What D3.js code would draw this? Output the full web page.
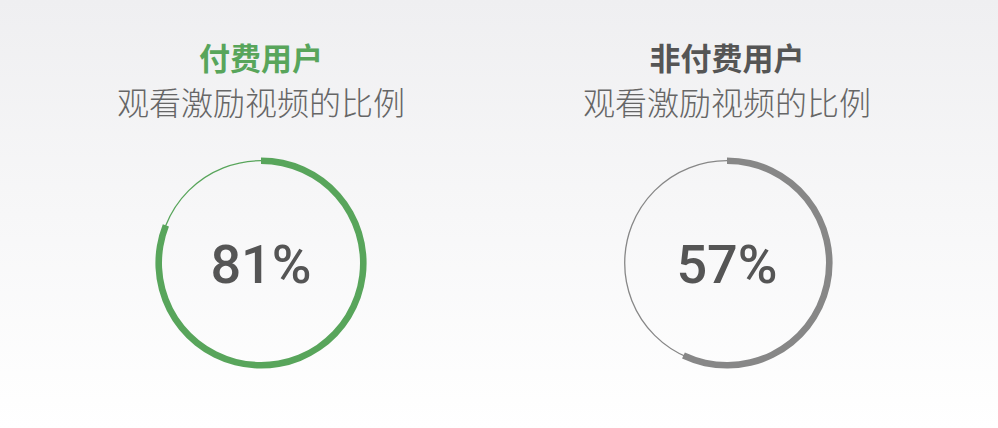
<!DOCTYPE html>
<html>
<head>
<meta charset="utf-8">
<script src="https://cdn.jsdelivr.net/npm/d3@7"></script>
<style>
  html, body { margin: 0; padding: 0; }
  body { width: 998px; height: 428px; overflow: hidden; }
</style>
</head>
<body>
<svg id="chart" width="998" height="428"></svg>
<script>
// data
var groups = ["付费用户", "非付费用户"];
var values = [81, 57];
var subtitle = "观看激励视频的比例";
var colors = ["#58a55b", "#878787"];
var titleColors = ["#58a55b", "#555555"];

var svg = d3.select("#chart"),
    width = +svg.attr("width"),
    height = +svg.attr("height");

var defs = svg.append("defs");
var grad = defs.append("linearGradient")
    .attr("id", "bg")
    .attr("x1", 0).attr("y1", 0).attr("x2", 0).attr("y2", 1);
grad.append("stop").attr("offset", "0%").attr("stop-color", "#efeff1");
grad.append("stop").attr("offset", "100%").attr("stop-color", "#ffffff");

svg.append("rect")
    .attr("width", width)
    .attr("height", height)
    .attr("fill", "url(#bg)");

var x = d3.scalePoint().domain(groups).range([261, 727]);
var angle = d3.scaleLinear().domain([0, 100]).range([0, 2 * Math.PI]);

var cy = 263, r = 102.3;

var arc = d3.arc()
    .innerRadius(r - 3.3)
    .outerRadius(r + 3.3)
    .startAngle(0)
    .endAngle(function(d) { return angle(d); });

var g = svg.selectAll(".donut")
    .data(groups)
    .enter().append("g")
    .attr("class", "donut")
    .attr("transform", function(d) { return "translate(" + x(d) + ",0)"; });

g.append("text")
    .attr("y", 70)
    .attr("text-anchor", "middle")
    .attr("font-family", "'Noto Sans CJK SC', sans-serif")
    .attr("font-weight", "bold")
    .attr("font-size", 31)
    .attr("fill", function(d, i) { return titleColors[i]; })
    .text(function(d) { return d; });

g.append("text")
    .attr("y", 115)
    .attr("text-anchor", "middle")
    .attr("font-family", "'Noto Sans CJK SC', sans-serif")
    .attr("font-weight", 300)
    .attr("font-size", 32)
    .attr("fill", "#666666")
    .text(subtitle);

g.append("circle")
    .attr("cy", cy)
    .attr("r", r)
    .attr("fill", "none")
    .attr("stroke", function(d, i) { return colors[i]; })
    .attr("stroke-width", 1.3);

g.append("path")
    .attr("transform", "translate(0," + cy + ")")
    .attr("fill", function(d, i) { return colors[i]; })
    .attr("d", function(d, i) { return arc(values[i]); });

g.append("text")
    .attr("y", 283)
    .attr("text-anchor", "middle")
    .attr("font-family", "Roboto, sans-serif")
    .attr("font-weight", 500)
    .attr("font-size", 54)
    .attr("fill", "#555555")
    .text(function(d, i) { return values[i] + "%"; });
</script>
</body>
</html>
